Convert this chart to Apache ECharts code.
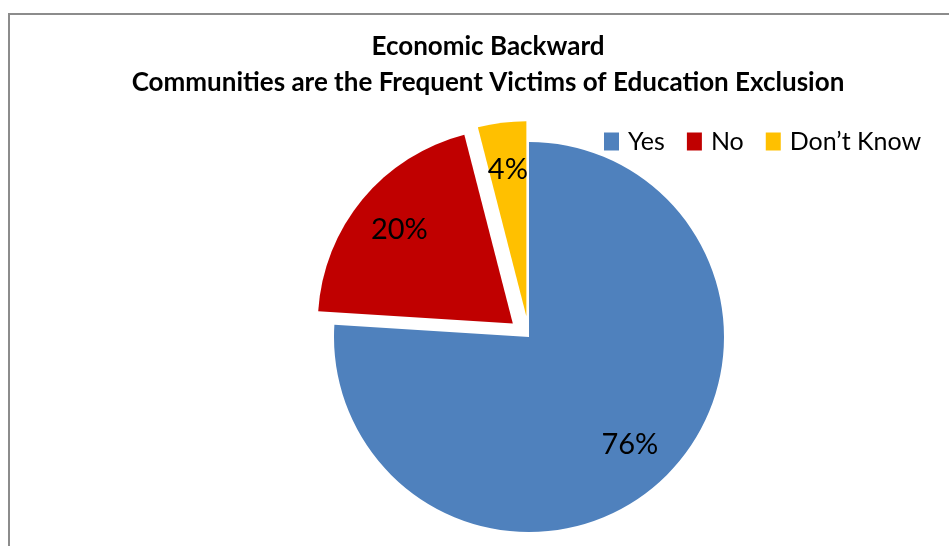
<!DOCTYPE html>
<html>
<head>
<meta charset="utf-8">
<script src="https://cdn.jsdelivr.net/npm/echarts@6/dist/echarts.min.js"></script>
<style>html,body{margin:0;padding:0;background:#fff}#c{width:949px;height:546px}</style>
</head>
<body>
<div id="c"></div>
<script>
const categories = ['Yes', 'No', 'Don\u2019t Know'];
const values = [76, 20, 4];
const colors = ['#4F81BD', '#C00000', '#FFC000'];
const exploded = [false, true, true];
const titleLines = ['Economic Backward', 'Communities are the Frequent Victims of Education Exclusion'];

const chart = echarts.init(document.getElementById('c'));
const R = 195;
const center = [529, 337];
const font = 'Lato, "Liberation Sans", sans-serif';

const sliceData = categories.map((n, i) => ({
  name: n, value: values[i], selected: exploded[i],
  itemStyle: { color: colors[i] }
}));
const labelData = categories.map((n, i) => ({
  name: n, value: values[i], selected: exploded[i],
  itemStyle: { color: 'rgba(0,0,0,0)' }
}));

chart.setOption({
  animation: false,
  title: {
    text: titleLines.join('\n'),
    left: 483, top: 24, textAlign: 'center',
    textStyle: { fontFamily: font, fontWeight: 'bold', fontSize: 26, lineHeight: 36, color: '#000' }
  },
  legend: {
    data: categories,
    left: 599, top: 124,
    icon: 'rect', itemWidth: 15, itemHeight: 18, itemGap: 22,
    selectedMode: false,
    textStyle: { fontFamily: font, fontSize: 25, color: '#000', padding: [0, 0, 0, 4] }
  },
  graphic: [{
    type: 'rect', shape: { x: 9, y: 14, width: 1000, height: 600 },
    style: { fill: 'none', stroke: '#8c8c8c', lineWidth: 2 }, silent: true, z: -1
  }],
  series: [{
    type: 'pie', name: 'slices',
    center: center, radius: [0, R],
    startAngle: 90, clockwise: true,
    selectedMode: 'multiple', selectedOffset: 21,
    label: { show: false }, labelLine: { show: false },
    emphasis: { disabled: true },
    data: sliceData
  }, {
    type: 'pie', name: 'labels',
    center: center, radius: [0, R * 1.48],
    startAngle: 90, clockwise: true,
    selectedMode: 'multiple', selectedOffset: 21,
    silent: true, z: 5,
    label: { show: true, position: 'inside', formatter: '{c}%', fontFamily: font, fontSize: 29, color: '#000' },
    labelLine: { show: false },
    emphasis: { disabled: true },
    select: { itemStyle: { color: 'rgba(0,0,0,0)' } },
    data: labelData
  }]
});
</script>
</body>
</html>
